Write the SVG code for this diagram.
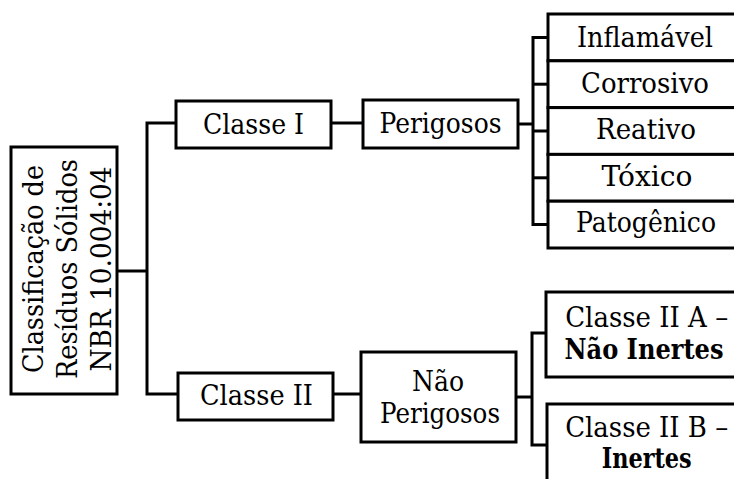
<svg xmlns="http://www.w3.org/2000/svg" width="734" height="479" viewBox="0 0 734 479">
<style>
.box{fill:#fff;stroke:#000;stroke-width:3}
.ln{fill:none;stroke:#000;stroke-width:3}
text{font-family:"DejaVu Serif","Liberation Serif",serif;font-size:28px;fill:#000;text-anchor:middle}
.b{font-weight:bold}
</style>
<g id="connectors">
<polyline class="ln" points="117,271 147,271"/>
<polyline class="ln" points="176,123 147,123 147,394 178,394"/>
<polyline class="ln" points="331,123 363,123"/>
<polyline class="ln" points="518,124 533,124"/>
<polyline class="ln" points="548,37.4 533,37.4 533,224.6 548,224.6"/>
<polyline class="ln" points="533,84.2 548,84.2"/>
<polyline class="ln" points="533,131 548,131"/>
<polyline class="ln" points="533,177.8 548,177.8"/>
<polyline class="ln" points="333,394 361,394"/>
<polyline class="ln" points="516,397 532,397"/>
<polyline class="ln" points="546,333 532,333 532,445 547,445"/>
</g>
<g id="root">
<rect class="box" x="11" y="147" width="106" height="247"/>
<g transform="translate(0,269) rotate(-90)">
<text x="0" y="43" textLength="208" lengthAdjust="spacingAndGlyphs">Classificação de</text>
<text x="0" y="77" textLength="220" lengthAdjust="spacingAndGlyphs">Resíduos Sólidos</text>
<text x="0" y="111" textLength="205" lengthAdjust="spacingAndGlyphs">NBR 10.004:04</text>
</g>
</g>
<g id="classe1">
<rect class="box" x="176" y="101" width="155" height="47"/>
<text x="253.5" y="134" textLength="101" lengthAdjust="spacingAndGlyphs">Classe I</text>
</g>
<g id="perigosos">
<rect class="box" x="363" y="100" width="155" height="48"/>
<text x="440.5" y="133" textLength="122" lengthAdjust="spacingAndGlyphs">Perigosos</text>
</g>
<g id="inflamavel">
<rect class="box" x="548" y="14" width="200" height="46.8"/>
<text x="645" y="47" textLength="136" lengthAdjust="spacingAndGlyphs">Inflamável</text>
</g>
<g id="corrosivo">
<rect class="box" x="548" y="60.8" width="200" height="46.8"/>
<text x="645" y="93" textLength="128" lengthAdjust="spacingAndGlyphs">Corrosivo</text>
</g>
<g id="reativo">
<rect class="box" x="548" y="107.6" width="200" height="46.8"/>
<text x="646" y="139" textLength="100" lengthAdjust="spacingAndGlyphs">Reativo</text>
</g>
<g id="toxico">
<rect class="box" x="548" y="154.4" width="200" height="46.8"/>
<text x="647" y="186" textLength="91" lengthAdjust="spacingAndGlyphs">Tóxico</text>
</g>
<g id="patogenico">
<rect class="box" x="548" y="201.2" width="200" height="46.8"/>
<text x="646" y="232" textLength="140" lengthAdjust="spacingAndGlyphs">Patogênico</text>
</g>
<g id="classe2">
<rect class="box" x="178" y="373" width="155" height="47"/>
<text x="256.5" y="405" textLength="113" lengthAdjust="spacingAndGlyphs">Classe II</text>
</g>
<g id="naoperigosos">
<rect class="box" x="361" y="352" width="155" height="90"/>
<text x="438" y="391" textLength="52" lengthAdjust="spacingAndGlyphs">Não</text>
<text x="440" y="423" textLength="120" lengthAdjust="spacingAndGlyphs">Perigosos</text>
</g>
<g id="classe2a">
<rect class="box" x="546" y="292" width="200" height="85"/>
<text x="646.7" y="327" textLength="163" lengthAdjust="spacingAndGlyphs">Classe II A –</text>
<text x="644" y="359" class="b" textLength="159" lengthAdjust="spacingAndGlyphs">Não Inertes</text>
</g>
<g id="classe2b">
<rect class="box" x="547" y="404" width="200" height="90"/>
<text x="646.7" y="437" textLength="163" lengthAdjust="spacingAndGlyphs">Classe II B –</text>
<text x="646.7" y="468" class="b" textLength="90" lengthAdjust="spacingAndGlyphs">Inertes</text>
</g>
</svg>
